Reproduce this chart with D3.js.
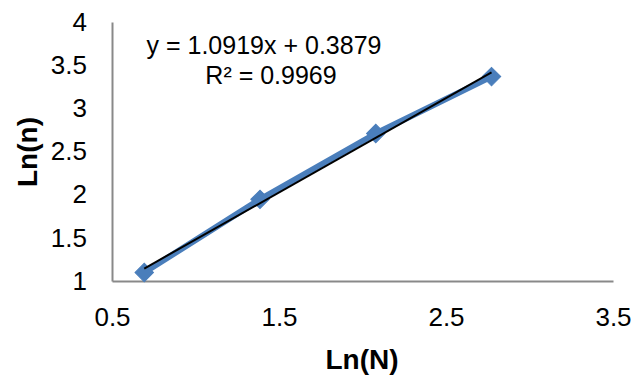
<!DOCTYPE html>
<html>
<head>
<meta charset="utf-8">
<script src="https://cdn.jsdelivr.net/npm/d3@7"></script>
<style>
  html, body { margin: 0; padding: 0; background: #fff; }
  svg { display: block; }
  text { font-family: "Liberation Sans", Arial, sans-serif; fill: #000; }
</style>
</head>
<body>
<svg id="chart" width="636" height="376"></svg>
<script>
// ---- data ----
const lnN = [0.6931, 1.3863, 2.0794, 2.7726];
const lnn = [1.0986, 1.9459, 2.7081, 3.3673];
const xTicks = [0.5, 1.5, 2.5, 3.5];
const yTicks = [1, 1.5, 2, 2.5, 3, 3.5, 4];
const trendSlope = 1.0919;
const trendIntercept = 0.3879;
const eqLine1 = "y = 1.0919x + 0.3879";
const eqLine2 = "R² = 0.9969";
const xTitle = "Ln(N)";
const yTitle = "Ln(n)";

(function () {
  const svg = d3.select("#chart");
  const pl = 112, pr = 613, pt = 22, pb = 281;
  const x = d3.scaleLinear().domain([0.5, 3.5]).range([pl, pr]);
  const y = d3.scaleLinear().domain([1, 4]).range([pb, pt]);

  const axisColor = "#898989";
  const fs = 26;
  const ff = "'Liberation Sans', Arial, sans-serif";

  // x axis
  const gx = svg.append("g").attr("transform", `translate(0,${pb})`)
    .call(d3.axisBottom(x).tickValues(xTicks).tickSize(0).tickPadding(27).tickFormat(d3.format("")));
  gx.select(".domain").attr("stroke", axisColor).attr("stroke-width", 2);
  gx.selectAll("text").style("font-size", fs + "px").style("font-family", ff).attr("fill", "#000");

  // y axis
  const gy = svg.append("g").attr("transform", `translate(${pl},0)`)
    .call(d3.axisLeft(y).tickValues(yTicks).tickSize(0).tickPadding(25).tickFormat(d3.format("")));
  gy.select(".domain").attr("stroke", axisColor).attr("stroke-width", 2);
  gy.selectAll("text").style("font-size", fs + "px").style("font-family", ff).attr("fill", "#000");

  // series line
  const pts = lnN.map((v, i) => [v, lnn[i]]);
  svg.append("path")
    .datum(pts)
    .attr("fill", "none")
    .attr("stroke", "#4A7EBB")
    .attr("stroke-width", 6)
    .attr("stroke-linejoin", "round")
    .attr("d", d3.line().x(d => x(d[0])).y(d => y(d[1])));

  // markers (diamonds)
  svg.append("g").selectAll("path")
    .data(pts)
    .join("path")
    .attr("transform", d => `translate(${x(d[0])},${y(d[1])}) rotate(45)`)
    .attr("d", d3.symbol().type(d3.symbolSquare).size(170))
    .attr("fill", "#4A7EBB")
    .attr("stroke", "#4A7EBB")
    .attr("stroke-width", 1);

  // trendline
  const x0 = lnN[0], x1 = lnN[lnN.length - 1];
  svg.append("line")
    .attr("x1", x(x0)).attr("y1", y(trendSlope * x0 + trendIntercept))
    .attr("x2", x(x1)).attr("y2", y(trendSlope * x1 + trendIntercept))
    .attr("stroke", "#000").attr("stroke-width", 2);

  // equation
  svg.append("text").attr("x", 264).attr("y", 54).attr("text-anchor", "middle")
    .style("font-size", "25px").text(eqLine1);
  svg.append("text").attr("x", 271).attr("y", 84).attr("text-anchor", "middle")
    .style("font-size", "25px").text(eqLine2);

  // axis titles
  svg.append("text").attr("x", 362).attr("y", 369).attr("text-anchor", "middle")
    .style("font-size", "28px").style("font-weight", "bold").text(xTitle);
  svg.append("text").attr("transform", "translate(37,152) rotate(-90)").attr("text-anchor", "middle")
    .style("font-size", "28px").style("font-weight", "bold").text(yTitle);
})();
</script>
</body>
</html>
